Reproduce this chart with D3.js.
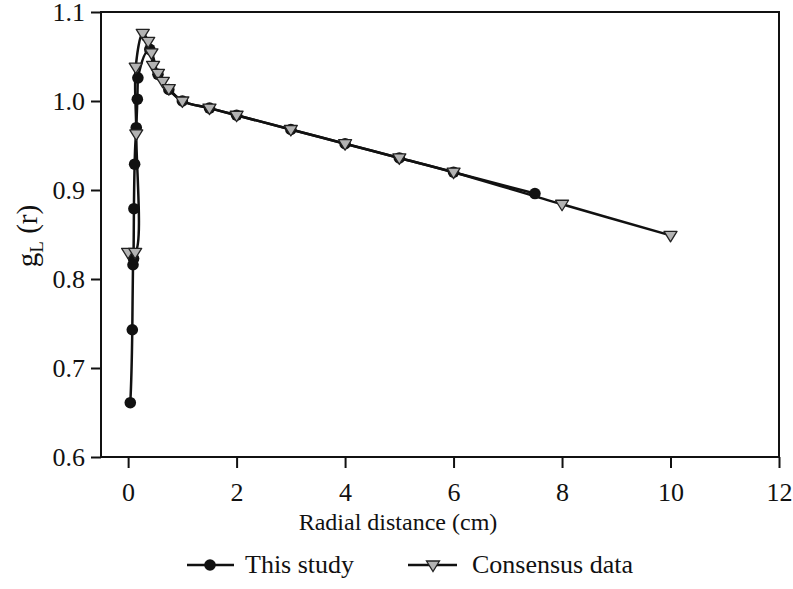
<!DOCTYPE html>
<html><head><meta charset="utf-8">
<script src="https://cdn.jsdelivr.net/npm/d3@7"></script>
<style>body{margin:0;background:#fff}svg{display:block}svg text{font-family:"Liberation Serif",serif !important;fill:#111}</style>
</head><body>
<svg id="c" width="793" height="589"></svg>
<script>
// Data
const thisStudyR = [0.04, 0.077, 0.09, 0.10, 0.107, 0.12, 0.15, 0.17, 0.18, 0.40, 0.55, 0.75, 1.0, 1.5, 2.0, 3.0, 4.0, 5.0, 6.0, 7.5];
const thisStudyG = [0.661, 0.743, 0.816, 0.823, 0.879, 0.929, 0.970, 1.002, 1.026, 1.058, 1.030, 1.013, 1.000, 0.992, 0.984, 0.968, 0.952, 0.936, 0.920, 0.896];
const consensusR = [0.0, 0.13, 0.15, 0.14, 0.27, 0.37, 0.43, 0.46, 0.55, 0.64, 0.75, 1.0, 1.5, 2.0, 3.0, 4.0, 5.0, 6.0, 8.0, 10.0];
const consensusG = [0.830, 0.830, 0.963, 1.038, 1.076, 1.067, 1.054, 1.040, 1.031, 1.022, 1.014, 1.000, 0.992, 0.984, 0.968, 0.952, 0.936, 0.920, 0.884, 0.849];
const xTicks = [0, 2, 4, 6, 8, 10, 12];
const yTicks = [0.6, 0.7, 0.8, 0.9, 1.0, 1.1];
const seriesNames = ["This study", "Consensus data"];

const FONT = "'Liberation Serif', serif";
const svg = d3.select("#c");
const L = 101, R = 779, T = 12, B = 457;
const x = d3.scaleLinear().domain([-0.5, 12]).range([L, R]);
const y = d3.scaleLinear().domain([0.6, 1.1]).range([B, T]);

// frame
svg.append("rect").attr("x", L).attr("y", T).attr("width", R - L).attr("height", B - T)
  .attr("fill", "none").attr("stroke", "#111").attr("stroke-width", 2);

// axes
const xAxis = svg.append("g").attr("transform", `translate(0,${B})`)
  .call(d3.axisBottom(x).tickValues(xTicks).tickFormat(d3.format("d")).tickSize(11).tickPadding(8));
const yAxis = svg.append("g").attr("transform", `translate(${L},0)`)
  .call(d3.axisLeft(y).tickValues(yTicks).tickFormat(d3.format(".1f")).tickSize(10).tickPadding(6));
[xAxis, yAxis].forEach(a => {
  a.attr("font-family", FONT);
  a.select(".domain").remove();
  a.selectAll(".tick line").attr("stroke", "#111").attr("stroke-width", 2);
  a.selectAll(".tick text").style("font-family", FONT).attr("font-size", 26).attr("fill", "#111");
});
xAxis.selectAll(".tick text").attr("dy", "0.95em");
yAxis.selectAll(".tick text").attr("dy", "0.34em");

// axis titles
svg.append("text").attr("x", 398).attr("y", 530).attr("text-anchor", "middle")
  .style("font-family", FONT).attr("font-size", 24).text("Radial distance (cm)");
const yl = svg.append("text").attr("transform", "translate(37,236) rotate(-90)")
  .attr("text-anchor", "middle").style("font-family", FONT).attr("font-size", 29);
yl.append("tspan").text("g");
yl.append("tspan").attr("font-size", 19).attr("dy", 6).text("L");
yl.append("tspan").attr("dy", -6).text(" (r)");

// lines
const ts = thisStudyR.map((r, i) => [r, thisStudyG[i]]);
const cs = consensusR.map((r, i) => [r, consensusG[i]]);
const lineTS = d3.line().x(d => x(d[0])).y(d => y(d[1])).curve(d3.curveMonotoneX);
const lineCS = d3.line().x(d => x(d[0])).y(d => y(d[1])).curve(d3.curveCatmullRom.alpha(0.5));
svg.append("path").datum(ts).attr("d", lineTS).attr("fill", "none").attr("stroke", "#111").attr("stroke-width", 2.5);
svg.append("path").datum(cs).attr("d", lineCS).attr("fill", "none").attr("stroke", "#111").attr("stroke-width", 2.5);

const triPath = "M-6.5,-4L6.5,-4L0,6.5Z";
svg.append("g").selectAll("circle").data(ts).join("circle")
  .attr("cx", d => x(d[0])).attr("cy", d => y(d[1])).attr("r", 5.8).attr("fill", "#111");
svg.append("g").selectAll("path").data(cs).join("path")
  .attr("transform", d => `translate(${x(d[0])},${y(d[1])})`).attr("d", triPath)
  .attr("fill", "#b3b3b3").attr("stroke", "#222").attr("stroke-width", 1.3).attr("stroke-linejoin", "round");

// legend
const lg = svg.append("g");
lg.append("line").attr("x1", 187).attr("x2", 234).attr("y1", 565).attr("y2", 565).attr("stroke", "#111").attr("stroke-width", 2.5);
lg.append("circle").attr("cx", 210).attr("cy", 565).attr("r", 5.8).attr("fill", "#111");
lg.append("text").attr("x", 245).attr("y", 573).style("font-family", FONT).attr("font-size", 26).text(seriesNames[0]);
lg.append("line").attr("x1", 408).attr("x2", 457).attr("y1", 565).attr("y2", 565).attr("stroke", "#111").attr("stroke-width", 2.5);
lg.append("path").attr("transform", "translate(433,565)").attr("d", triPath)
  .attr("fill", "#b3b3b3").attr("stroke", "#222").attr("stroke-width", 1.3);
lg.append("text").attr("x", 472).attr("y", 573).style("font-family", FONT).attr("font-size", 26).text(seriesNames[1]);
</script>
</body></html>
